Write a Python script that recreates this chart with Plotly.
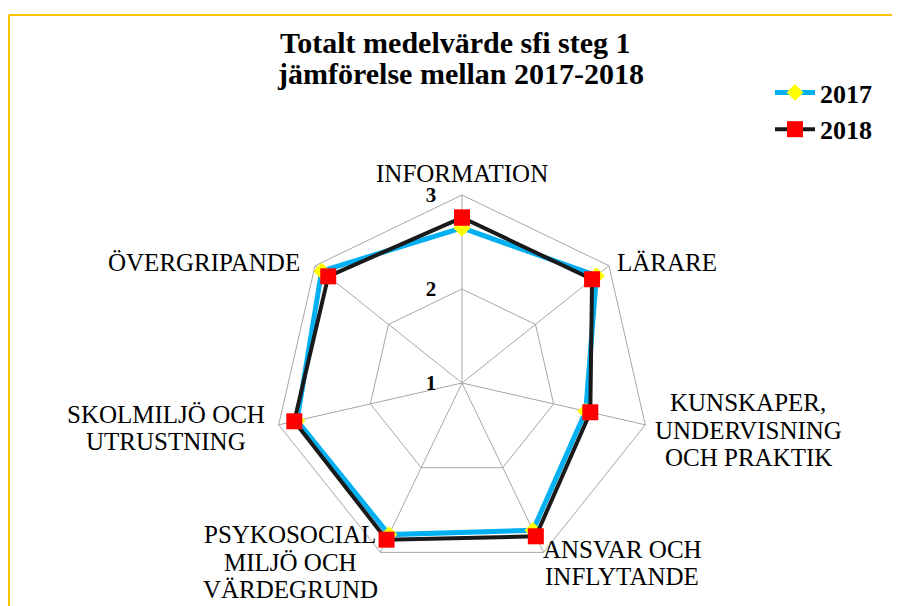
import plotly.graph_objects as go

categories = ["INFORMATION", "LÄRARE", "KUNSKAPER, UNDERVISNING OCH PRAKTIK",
              "ANSVAR OCH INFLYTANDE", "PSYKOSOCIAL MILJÖ OCH VÄRDEGRUND",
              "SKOLMILJÖ OCH UTRUSTNING", "ÖVERGRIPANDE"]
category_lines = [["INFORMATION"], ["LÄRARE"], ["KUNSKAPER,", "UNDERVISNING", "OCH PRAKTIK"],
                  ["ANSVAR OCH", "INFLYTANDE"], ["PSYKOSOCIAL", "MILJÖ OCH", "VÄRDEGRUND"],
                  ["SKOLMILJÖ OCH", "UTRUSTNING"], ["ÖVERGRIPANDE"]]
values_2017 = [2.65, 2.83, 2.35, 2.74, 2.79, 2.80, 2.91]
values_2018 = [2.76, 2.77, 2.40, 2.81, 2.85, 2.83, 2.82]
radial_ticks = [1, 2, 3]
title_lines = ["Totalt medelvärde sfi steg 1", "jämförelse mellan 2017-2018"]

W, H = 900, 606
OFF = 8  # page offset of the plot div in the browser
SERIF = "Liberation Serif, Times New Roman, serif"


def px(x):
    return (x - OFF) / W


def py(y):
    return 1 - (y - OFF) / H


fig = go.Figure()
fig.add_trace(go.Scatterpolar(
    r=values_2017 + values_2017[:1], theta=categories + categories[:1],
    mode="lines+markers", name="2017",
    line=dict(color="#00B0F0", width=5),
    marker=dict(symbol="diamond", size=13, color="#FFFF00"),
))
fig.add_trace(go.Scatterpolar(
    r=values_2018 + values_2018[:1], theta=categories + categories[:1],
    mode="lines+markers", name="2018",
    line=dict(color="#1A1A1A", width=4),
    marker=dict(symbol="square", size=16, color="#FF0000"),
))

cx, cy, R = 462, 383, 188
fig.update_layout(
    width=W, height=H,
    margin=dict(l=0, r=0, t=0, b=0),
    paper_bgcolor="white",
    plot_bgcolor="white",
    showlegend=True,
    legend=dict(x=px(770), y=py(69), xanchor="left", yanchor="top",
                font=dict(family=SERIF, size=26, color="black", weight="bold"),
                bgcolor="rgba(0,0,0,0)", itemwidth=40, tracegroupgap=0),
    polar=dict(
        domain=dict(x=[px(cx - R), px(cx + R)], y=[py(cy + R), py(cy - R)]),
        bgcolor="white",
        gridshape="linear",
        radialaxis=dict(range=[1, 3], tickvals=radial_ticks, ticktext=[str(v) for v in radial_ticks],
                        angle=90, side="counterclockwise", showline=False,
                        ticks="outside", ticklen=18, tickcolor="rgba(0,0,0,0)", tickangle=90,
                        gridcolor="#A6A6A6", gridwidth=1,
                        tickfont=dict(family=SERIF, size=21, color="black", weight="bold")),
        angularaxis=dict(rotation=90, direction="clockwise", showticklabels=False, ticks="",
                         gridcolor="#A6A6A6", gridwidth=1, linecolor="#A6A6A6", linewidth=1),
    ),
    shapes=[
        dict(type="line", xref="paper", yref="paper", x0=px(9), x1=1, y0=py(15), y1=py(15),
             line=dict(color="#FFC000", width=2)),
        dict(type="line", xref="paper", yref="paper", x0=px(9), x1=px(9), y0=0, y1=py(15),
             line=dict(color="#FFC000", width=2)),
    ],
)

annotations = []
title_pos = [(455, 42), (460, 74)]
for t, (x, y) in zip(title_lines, title_pos):
    annotations.append(dict(text="<b>" + t + "</b>", x=px(x), y=py(y), xref="paper", yref="paper",
                            showarrow=False, xanchor="center", yanchor="middle",
                            font=dict(family=SERIF, size=30, color="black")))

label_centers = [(462, 173), (667, 262), (748, 430), (622, 563), (290, 562), (166, 428), (204, 262)]
LINE_H = 27.5
for lines, (x, yc) in zip(category_lines, label_centers):
    n = len(lines)
    for i, line in enumerate(lines):
        y = yc + (i - (n - 1) / 2) * LINE_H
        annotations.append(dict(text=line, x=px(x), y=py(y), xref="paper", yref="paper",
                                showarrow=False, xanchor="center", yanchor="middle",
                                font=dict(family=SERIF, size=25, color="black")))
fig.update_layout(annotations=annotations)

fig.write_html("out.html")
